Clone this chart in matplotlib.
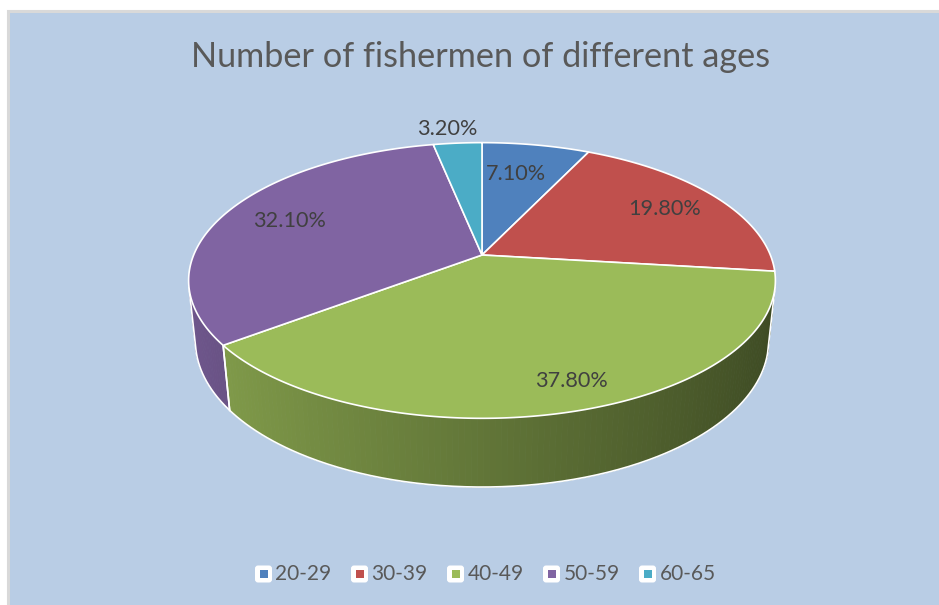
import numpy as np
import matplotlib.pyplot as plt
from matplotlib.patches import Polygon, Rectangle, FancyBboxPatch
from matplotlib.collections import PolyCollection
from matplotlib.colors import to_rgb

# data
age_groups = ['20-29', '30-39', '40-49', '50-59', '60-65']
shares = [7.1, 19.8, 37.8, 32.1, 3.2]
slice_colors = ['#4F81BD', '#C0504D', '#9BBB59', '#8064A2', '#4BACC6']
chart_title = 'Number of fishermen of different ages'

# where each percentage sits: fraction of radius, and a small turn (deg) off the slice middle
label_radius = [0.7, 0.77, 0.85, 0.75, 1.16]
label_turn = [-2, 0, -3, 0, -1.5]

# perspective view of the disc (pixel space)
cx, cy, scale = 482, 255, 1384
dist, tilt = 4.8, np.radians(27.5)
thick = 0.24

FONT = 'Lato'
TXT = '#404040'


def project(alpha, r=1.0, h=0.0):
    X = r * np.sin(alpha)
    Z = -r * np.cos(alpha)
    d = dist - h * np.sin(tilt) - Z * np.cos(tilt)
    xs = X / d
    ys = (h * np.cos(tilt) - Z * np.sin(tilt)) / d
    return cx + scale * xs, cy - scale * ys


def shade(color, alpha):
    f = 0.63 - 0.24 * np.sin(alpha)
    return tuple(np.clip(np.array(to_rgb(color)) * f, 0, 1))


fig = plt.figure(figsize=(9.39, 6.05), dpi=100)
ax = fig.add_axes([0, 0, 1, 1])
ax.set_xlim(0, 939)
ax.set_ylim(605, 0)
ax.axis('off')

# chart area
ax.add_patch(Rectangle((8, 11), 940, 600, facecolor='#B9CDE5', edgecolor='#D9D9D9', lw=2.2, zorder=0))

ax.text(481, 57, chart_title, ha='center', va='center', fontsize=24.7,
        color='#595959', family=FONT)

fracs = np.array(shares) / sum(shares)
edges = np.concatenate([[0], np.cumsum(fracs)]) * 2 * np.pi

# outer wall is only seen where it faces the camera
lim = np.arccos(-1 / (dist * np.cos(tilt)))
vis0, vis1 = lim, 2 * np.pi - lim

for i, col in enumerate(slice_colors):
    a0, a1 = max(edges[i], vis0), min(edges[i + 1], vis1)
    if a1 <= a0:
        continue
    n = max(int(np.degrees(a1 - a0)), 2)
    ts = np.linspace(a0, a1, n + 1)
    quads, cols = [], []
    for t0, t1 in zip(ts[:-1], ts[1:]):
        p = [project(t0), project(t1), project(t1, h=-thick), project(t0, h=-thick)]
        quads.append(p)
        cols.append(shade(col, 0.5 * (t0 + t1)))
    ax.add_collection(PolyCollection(quads, facecolors=cols, edgecolors=cols,
                                     linewidths=0.6, zorder=2))
    # seams between slices on the wall
    for t in (a0, a1):
        if vis0 < t < vis1:
            xa, ya = project(t)
            xb, yb = project(t, h=-thick)
            ax.plot([xa, xb], [ya, yb], color='white', lw=1.2, zorder=3)

# wall silhouette and bottom rim
ts = np.linspace(vis0, vis1, 300)
bx, by = project(ts, h=-thick)
tx0, ty0 = project(vis0)
tx1, ty1 = project(vis1)
ax.plot(np.concatenate([[tx0], bx, [tx1]]), np.concatenate([[ty0], by, [ty1]]),
        color='white', lw=1.2, zorder=3)

# top faces
for i, col in enumerate(slice_colors):
    ts = np.linspace(edges[i], edges[i + 1], 200)
    rx, ry = project(ts)
    pts = np.column_stack([np.concatenate([[cx], rx]), np.concatenate([[cy], ry])])
    ax.add_patch(Polygon(pts, closed=True, facecolor=col, edgecolor='white',
                         lw=1.2, joinstyle='round', zorder=4))

# percentage labels
for i, v in enumerate(shares):
    mid = 0.5 * (edges[i] + edges[i + 1]) + np.radians(label_turn[i])
    lx, ly = project(mid, r=label_radius[i])
    ax.text(lx, ly, f'{v:.2f}%', ha='center', va='center', fontsize=15.6,
            color=TXT, family=FONT, zorder=6)

# legend
lg_x, lg_y, step = 263.5, 574, 96
for i, (name, col) in enumerate(zip(age_groups, slice_colors)):
    x = lg_x + i * step
    ax.add_patch(FancyBboxPatch((x - 7, lg_y - 7), 14, 14, boxstyle='round,pad=1.5,rounding_size=3',
                                facecolor='white', edgecolor='none', zorder=5))
    ax.add_patch(Rectangle((x - 4, lg_y - 4), 8, 8, facecolor=col, edgecolor='none', zorder=6))
    ax.text(x + 12, lg_y, name, ha='left', va='center', fontsize=15,
            color='#595959', family=FONT, zorder=6)

fig.savefig('out.png', dpi=100)
